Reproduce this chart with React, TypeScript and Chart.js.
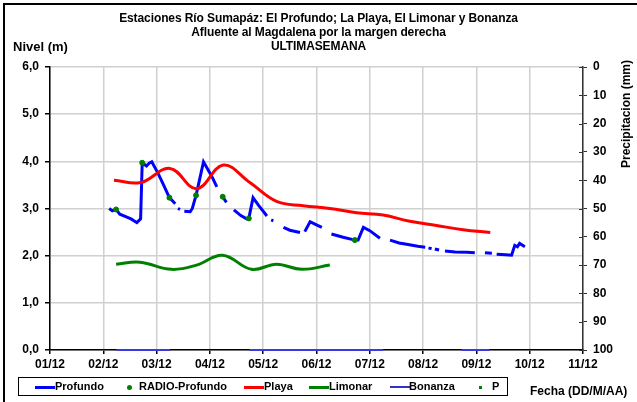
import React, { useEffect, useRef } from "react";
import { Chart, registerables } from "chart.js";

Chart.register(...registerables);

// ---- Data (x = day of December) ----
const xTicks = [1, 2, 3, 4, 5, 6, 7, 8, 9, 10, 11];
const tickLabel = (v: number) => String(v).padStart(2, "0") + "/12";

// Profundo: null marks a gap in the record
const profundoX = [
  2.11, 2.17, 2.24, 2.31, 2.42, 2.52, 2.63, 2.70, 2.73, 2.81, 2.86, 2.91, 3.03, 3.13, 3.24, 3.35, 3.37,
  3.40, 3.44, 3.48,
  3.52, 3.63, 3.67, 3.74, 3.88, 3.97, 4.05, 4.13, 4.18,
  4.24, 4.31, 4.38,
  4.45, 4.58, 4.69, 4.73, 4.81, 4.91, 5.07, 5.11,
  5.15, 5.19, 5.28,
  5.38, 5.50, 5.69, 5.73,
  5.78, 5.88, 5.97, 6.10, 6.19,
  6.28, 6.50, 6.72, 6.78, 6.88, 7.00, 7.19, 7.28,
  7.38, 7.55, 7.69, 7.90, 8.04, 8.07,
  8.10, 8.16, 8.19,
  8.22, 8.30, 8.35,
  8.41, 8.60, 8.82, 8.97, 9.06,
  9.16, 9.29, 9.33,
  9.38, 9.55, 9.66, 9.72, 9.77, 9.81, 9.91,
];
const profundoY = [
  3.00, 2.95, 2.98, 2.88, 2.83, 2.78, 2.70, 2.78, 3.97, 3.90, 3.96, 3.99, 3.74, 3.50, 3.23, 3.10, null,
  3.00, 2.98, null,
  2.94, 2.93, 3.00, 3.28, 3.99, 3.81, 3.65, 3.46, null,
  3.25, 3.13, null,
  2.97, 2.85, 2.78, 2.79, 3.23, 3.07, 2.84, null,
  2.76, 2.74, null,
  2.60, 2.54, 2.49, null,
  2.51, 2.72, 2.67, 2.60, null,
  2.46, 2.39, 2.33, 2.33, 2.60, 2.53, 2.37, null,
  2.33, 2.27, 2.24, 2.20, 2.18, null,
  2.16, 2.15, null,
  2.14, 2.12, null,
  2.10, 2.08, 2.07, 2.06, null,
  2.06, 2.05, null,
  2.03, 2.02, 2.01, 2.22, 2.19, 2.26, 2.19,
];

const radioX = [2.24, 2.73, 3.24, 3.74, 4.24, 4.73, 6.72];
const radioY = [2.98, 3.97, 3.23, 3.28, 3.25, 2.79, 2.33];

const playaX = [2.2, 2.7, 3.25, 3.75, 4.25, 4.75, 5.25, 5.75, 6.25, 6.75, 7.25, 7.75, 8.25, 8.75, 9.26];
const playaY = [3.60, 3.55, 3.85, 3.42, 3.92, 3.55, 3.15, 3.06, 3.00, 2.91, 2.86, 2.73, 2.64, 2.55, 2.49];

const limonarX = [2.24, 2.69, 3.28, 3.75, 4.24, 4.78, 5.25, 5.72, 6.25];
const limonarY = [1.82, 1.86, 1.71, 1.80, 2.01, 1.71, 1.82, 1.71, 1.80];

const bonanzaX = [2.25, 3.25, 3.3, 4.74, 7.25, 7.3, 8.72, 9.24];
const bonanzaY = [0, 0, null, 0, 0, null, 0, 0];

const pX: number[] = [];
const pY: number[] = [];

const pts = (xs: number[], ys: (number | null)[]) => xs.map((x, i) => ({ x, y: ys[i] }));

const FONT = "'Liberation Sans', Arial, sans-serif";

const rightInnerTicks = {
  id: "rightInnerTicks",
  afterDraw(chart: any) {
    const s = chart.scales.y2;
    if (!s) return;
    const ctx = chart.ctx;
    ctx.save();
    ctx.strokeStyle = "#333";
    ctx.lineWidth = 1;
    s.ticks.forEach((_t: any, i: number) => {
      const y = Math.round(s.getPixelForTick(i)) + 0.5;
      ctx.beginPath();
      ctx.moveTo(s.left - 4, y);
      ctx.lineTo(s.left, y);
      ctx.stroke();
    });
    ctx.restore();
  },
};

export default function App() {
  const ref = useRef<HTMLCanvasElement | null>(null);

  useEffect(() => {
    if (!ref.current) return;
    const chart = new Chart(ref.current, {
      type: "line",
      data: {
        datasets: [
          {
            label: "Profundo",
            data: pts(profundoX, profundoY) as any,
            borderColor: "#0000ff",
            backgroundColor: "#0000ff",
            borderWidth: 3,
            pointRadius: 0,
            tension: 0,
            spanGaps: false,
            yAxisID: "y",
            order: 3,
          },
          {
            label: "RADIO-Profundo",
            data: pts(radioX, radioY) as any,
            showLine: false,
            pointRadius: 2.5,
            pointBackgroundColor: "#008000",
            pointBorderColor: "#008000",
            borderColor: "#008000",
            yAxisID: "y",
            order: 0,
          },
          {
            label: "Playa",
            data: pts(playaX, playaY) as any,
            borderColor: "#ff0000",
            backgroundColor: "#ff0000",
            borderWidth: 3,
            pointRadius: 0,
            tension: 0.4,
            yAxisID: "y",
            order: 2,
          },
          {
            label: "Limonar",
            data: pts(limonarX, limonarY) as any,
            borderColor: "#008000",
            backgroundColor: "#008000",
            borderWidth: 3,
            pointRadius: 0,
            tension: 0.4,
            yAxisID: "y",
            order: 2,
          },
          {
            label: "Bonanza",
            data: pts(bonanzaX, bonanzaY) as any,
            borderColor: "#3a3ae0",
            borderWidth: 2,
            pointRadius: 0,
            spanGaps: false,
            clip: 4 as any,
            yAxisID: "y",
            order: 1,
          },
          {
            label: "P",
            data: pts(pX, pY) as any,
            showLine: false,
            pointRadius: 2,
            pointStyle: "rect",
            pointBackgroundColor: "#008000",
            yAxisID: "y2",
          },
        ],
      },
      options: {
        animation: false,
        responsive: false,
        layout: { padding: { top: 67, left: 0, right: 0, bottom: 0 } },
        plugins: { legend: { display: false }, title: { display: false }, tooltip: { enabled: false } },
        scales: {
          x: {
            type: "linear",
            min: 1,
            max: 11,
            afterBuildTicks: (s: any) => {
              s.ticks = xTicks.map((v) => ({ value: v }));
            },
            afterFit: (s: any) => {
              s.height = 52;
            },
            ticks: {
              callback: (v: any) => tickLabel(Number(v)),
              color: "#000",
              font: { family: FONT, size: 12, weight: "bold" },
              padding: 3,
              maxRotation: 0,
              autoSkip: false,
            },
            grid: { color: "#d0d0d0", lineWidth: 1.5, tickLength: 4, tickColor: "#000" },
            border: { color: "#000", width: 1.5 },
          },
          y: {
            position: "left",
            min: 0,
            max: 6,
            ticks: {
              stepSize: 1,
              callback: (v: any) => Number(v).toFixed(1).replace(".", ","),
              color: "#000",
              font: { family: FONT, size: 12, weight: "bold" },
              padding: 6,
            },
            afterFit: (s: any) => {
              s.width = 50;
            },
            grid: { color: "#d0d0d0", lineWidth: 1.5, tickLength: 5, tickColor: "#000" },
            border: { color: "#000", width: 1.5 },
          },
          y2: {
            position: "right",
            min: 0,
            max: 100,
            reverse: true,
            ticks: {
              stepSize: 10,
              color: "#000",
              font: { family: FONT, size: 12, weight: "bold" },
              padding: 6,
            },
            afterFit: (s: any) => {
              s.width = 54;
            },
            grid: { drawOnChartArea: false, tickLength: 4, tickColor: "#333" },
            border: { color: "#333", width: 1.5 },
          },
        },
      } as any,
      plugins: [rightInnerTicks],
    });
    return () => chart.destroy();
  }, []);

  const txt: React.CSSProperties = {
    position: "absolute",
    fontFamily: FONT,
    fontWeight: "bold",
    fontSize: 11,
    color: "#000",
    whiteSpace: "nowrap",
    lineHeight: "13px",
  };

  const legendItems = [
    { kind: "line", color: "#0000ff", w: 3, lx: 35, tx: 55, label: "Profundo" },
    { kind: "dot", color: "#008000", lx: 129, tx: 139, label: "RADIO-Profundo" },
    { kind: "line", color: "#ff0000", w: 3, lx: 244, tx: 264, label: "Playa" },
    { kind: "line", color: "#008000", w: 3, lx: 309, tx: 329, label: "Limonar" },
    { kind: "line", color: "#3333cc", w: 1.5, lx: 390, tx: 409, label: "Bonanza" },
    { kind: "sq", color: "#008000", lx: 480, tx: 492, label: "P" },
  ];
  const legY = 387;

  return (
    <div style={{ position: "absolute", left: 0, top: 0, width: 637, height: 402, overflow: "hidden", background: "#fff" }}>
      <div style={{ position: "absolute", left: 3, top: 3, width: 700, height: 500, borderLeft: "2px solid #000", borderTop: "2px solid #000" }} />
      <canvas ref={ref} width={637} height={402} style={{ position: "absolute", left: 0, top: 0 }} />
      <div style={{ ...txt, left: 0, width: 637, top: 12, fontSize: 12, textAlign: "center", letterSpacing: "-0.1px" }}>
        Estaciones Río Sumapáz: El Profundo; La Playa, El Limonar y Bonanza
      </div>
      <div style={{ ...txt, left: 0, width: 637, top: 26, fontSize: 12, textAlign: "center", letterSpacing: "-0.1px" }}>
        Afluente al Magdalena por la margen derecha
      </div>
      <div style={{ ...txt, left: 0, width: 637, top: 40, fontSize: 12, textAlign: "center", letterSpacing: "-0.1px" }}>
        ULTIMASEMANA
      </div>
      <div style={{ ...txt, left: 13, top: 40, fontSize: 13 }}>Nivel (m)</div>
      <div
        style={{
          ...txt,
          fontSize: 12,
          left: 627 - 60,
          top: 114 - 7,
          width: 120,
          textAlign: "center",
          transform: "rotate(-90deg)",
          transformOrigin: "60px 7px",
        }}
      >
        Precipitacion (mm)
      </div>
      <div style={{ ...txt, left: 530, top: 385, fontSize: 12 }}>Fecha (DD/M/AA)</div>
      <div style={{ position: "absolute", left: 18, top: 377, width: 490, height: 19, border: "1px solid #000", boxSizing: "border-box" }} />
      {legendItems.map((it) => (
        <React.Fragment key={it.label}>
          {it.kind === "line" && (
            <div style={{ position: "absolute", left: it.lx, top: legY - (it.w as number) / 2, width: 20, height: it.w, background: it.color }} />
          )}
          {it.kind === "dot" && (
            <div style={{ position: "absolute", left: it.lx - 2.5, top: legY - 2.5, width: 5, height: 5, borderRadius: "50%", background: it.color }} />
          )}
          {it.kind === "sq" && (
            <div style={{ position: "absolute", left: it.lx - 1.5, top: legY - 1.5, width: 3, height: 3, background: it.color }} />
          )}
          <div style={{ ...txt, left: it.tx, top: legY - 7 }}>{it.label}</div>
        </React.Fragment>
      ))}
    </div>
  );
}
